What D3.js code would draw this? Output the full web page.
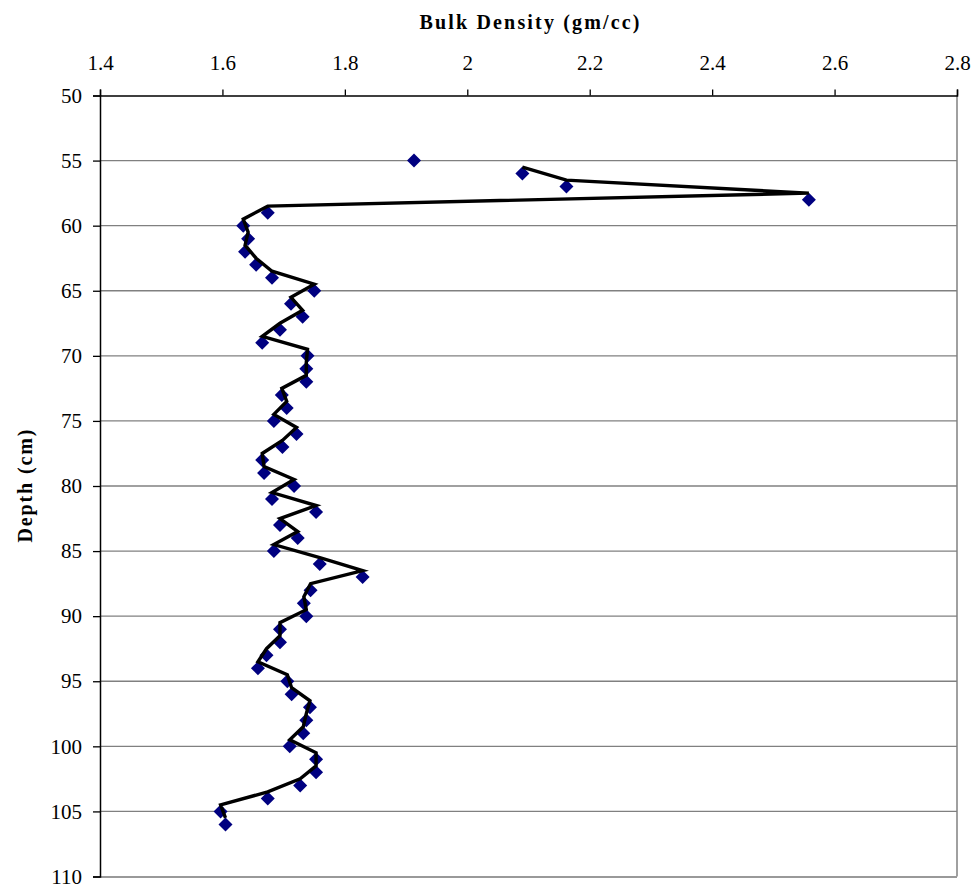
<!DOCTYPE html>
<html>
<head>
<meta charset="utf-8">
<script src="https://cdn.jsdelivr.net/npm/d3@7"></script>
<style>
  html, body { margin: 0; padding: 0; background: #fff; }
  svg { display: block; }
  svg text { font-family: "Liberation Serif", "Times New Roman", serif; fill: #000; }
</style>
</head>
<body>
<svg id="chart" width="979" height="887"></svg>
<script>
// Soil core: bulk density measured at each depth
const depths = [55, 56, 57, 58, 59, 60, 61, 62, 63, 64, 65, 66, 67, 68, 69, 70,
  71, 72, 73, 74, 75, 76, 77, 78, 79, 80, 81, 82, 83, 84, 85, 86, 87, 88, 89, 90,
  91, 92, 93, 94, 95, 96, 97, 98, 99, 100, 101, 102, 103, 104, 105, 106];
const densities = [1.913, 2.090, 2.162, 2.558, 1.674, 1.634, 1.642, 1.637, 1.655, 1.681,
  1.750, 1.712, 1.731, 1.694, 1.665, 1.739, 1.737, 1.737, 1.697, 1.705,
  1.684, 1.721, 1.698, 1.665, 1.668, 1.717, 1.681, 1.753, 1.694, 1.723,
  1.684, 1.759, 1.829, 1.744, 1.733, 1.737, 1.694, 1.694, 1.672, 1.658,
  1.706, 1.713, 1.743, 1.737, 1.732, 1.710, 1.753, 1.753, 1.727, 1.674,
  1.597, 1.605];

const xTicks = [1.4, 1.6, 1.8, 2.0, 2.2, 2.4, 2.6, 2.8];
const yTicks = [50, 55, 60, 65, 70, 75, 80, 85, 90, 95, 100, 105, 110];
const xTitle = "Bulk Density (gm/cc)";
const yTitle = "Depth (cm)";

const serif = "Liberation Serif, Times New Roman, serif";
const plot = { left: 100, right: 957, top: 95.5, bottom: 876.5 };

const svg = d3.select("#chart");

const x = d3.scaleLinear().domain([1.4, 2.8]).range([plot.left, plot.right]);
const y = d3.scaleLinear().domain([50, 110]).range([plot.top, plot.bottom]);

// Horizontal gridlines
svg.append("g")
  .selectAll("line")
  .data(yTicks.filter(t => t !== 50 && t !== 110))
  .join("line")
  .attr("x1", plot.left).attr("x2", plot.right)
  .attr("y1", d => y(d)).attr("y2", d => y(d))
  .attr("stroke", "#808080").attr("stroke-width", 1.3);

// Right and bottom frame of the plot area
svg.append("line")
  .attr("x1", plot.right).attr("x2", plot.right)
  .attr("y1", plot.top).attr("y2", plot.bottom)
  .attr("stroke", "#808080").attr("stroke-width", 1.5);
svg.append("line")
  .attr("x1", plot.left).attr("x2", plot.right)
  .attr("y1", plot.bottom + 0.5).attr("y2", plot.bottom + 0.5)
  .attr("stroke", "#999").attr("stroke-width", 2);

// Top axis (bulk density)
const xAxis = d3.axisTop(x)
  .tickValues(xTicks)
  .tickSize(6)
  .tickPadding(20)
  .tickFormat(d => d3.format("")(+d.toFixed(1)));
const gx = svg.append("g")
  .attr("transform", `translate(0,${plot.top})`)
  .call(xAxis)
  .attr("font-family", serif)
  .attr("font-size", 21);
gx.select(".domain").attr("stroke", "#000").attr("stroke-width", 1.5);
gx.selectAll(".tick line").attr("stroke", "#000").attr("stroke-width", 1.3);
gx.selectAll(".tick text").attr("fill", "#000");

// Left axis (depth, increasing downward)
const yAxis = d3.axisLeft(y)
  .tickValues(yTicks)
  .tickSize(7)
  .tickPadding(11)
  .tickFormat(d3.format("d"));
const gy = svg.append("g")
  .attr("transform", `translate(${plot.left},0)`)
  .call(yAxis)
  .attr("font-family", serif)
  .attr("font-size", 21);
gy.select(".domain").attr("stroke", "#000").attr("stroke-width", 1.5);
gy.selectAll(".tick line").attr("stroke", "#000").attr("stroke-width", 1.3);
gy.selectAll(".tick text").attr("fill", "#000");

// Axis titles
svg.append("text")
  .attr("x", (plot.left + plot.right) / 2 + 1)
  .attr("y", 29)
  .attr("text-anchor", "middle")
  .attr("font-family", serif)
  .attr("font-weight", "bold")
  .attr("font-size", 20)
  .attr("textLength", 220)
  .attr("lengthAdjust", "spacing")
  .text(xTitle);

svg.append("text")
  .attr("transform", `translate(31.5,${(plot.top + plot.bottom) / 2}) rotate(-90)`)
  .attr("text-anchor", "middle")
  .attr("font-family", serif)
  .attr("font-weight", "bold")
  .attr("font-size", 20)
  .attr("textLength", 113)
  .attr("lengthAdjust", "spacing")
  .text(yTitle);

// Measured points: navy diamonds
const diamond = "M0,-7L7,0L0,7L-7,0Z";
svg.append("g")
  .selectAll("path")
  .data(depths.map((d, i) => ({ depth: d, rho: densities[i] })))
  .join("path")
  .attr("d", diamond)
  .attr("transform", p => `translate(${x(p.rho)},${y(p.depth)})`)
  .attr("fill", "#000080");

// Two-period moving-average trendline: depth averaged over consecutive samples
const trend = densities.slice(1).map((rho, i) => ({
  rho: rho,
  depth: (depths[i] + depths[i + 1]) / 2
}));
svg.append("path")
  .datum(trend)
  .attr("fill", "none")
  .attr("stroke", "#000")
  .attr("stroke-width", 3.4)
  .attr("stroke-linejoin", "miter")
  .attr("d", d3.line().x(p => x(p.rho)).y(p => y(p.depth)));
</script>
</body>
</html>
